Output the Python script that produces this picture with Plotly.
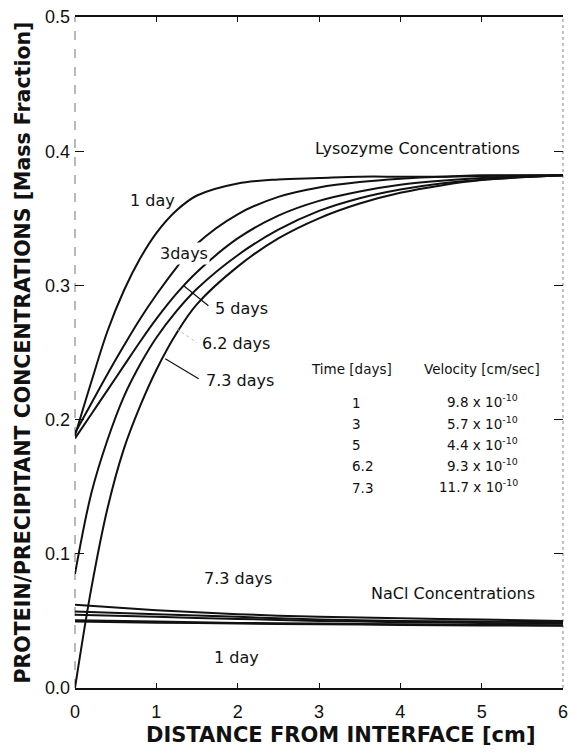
import plotly.graph_objects as go

# Distance from the interface (cm) at which the lysozyme profiles are sampled
distance = [0, 0.2, 0.4, 0.6, 0.8, 1.0, 1.25, 1.5, 2.0, 2.5, 3.0, 3.5, 4.0, 4.5, 5.0, 6.0]

# Lysozyme mass fraction profiles
lysozyme_1d = [0.188, 0.228, 0.266, 0.296, 0.320, 0.339, 0.356, 0.367, 0.376, 0.379, 0.380, 0.381, 0.381, 0.381, 0.382, 0.382]
lysozyme_3d = [0.190, 0.212, 0.234, 0.255, 0.275, 0.293, 0.3135, 0.331, 0.353, 0.366, 0.373, 0.377, 0.3795, 0.381, 0.3815, 0.382]
lysozyme_5d = [0.186, 0.204, 0.222, 0.240, 0.258, 0.275, 0.294, 0.310, 0.335, 0.352, 0.363, 0.370, 0.375, 0.378, 0.380, 0.382]
lysozyme_62d = [0.085, 0.145, 0.185, 0.217, 0.241, 0.261, 0.281, 0.2975, 0.3225, 0.3415, 0.3555, 0.365, 0.3715, 0.376, 0.3788, 0.382]
lysozyme_73d = [0.000, 0.074, 0.134, 0.178, 0.210, 0.237, 0.2645, 0.286, 0.314, 0.335, 0.350, 0.361, 0.369, 0.3745, 0.3785, 0.382]

# NaCl mass fraction profiles
nacl_distance = [0, 1, 2, 3, 4, 5, 6]
nacl_73d = [0.0620, 0.0580, 0.0550, 0.0530, 0.0520, 0.0510, 0.0500]
nacl_62d = [0.0570, 0.0550, 0.0530, 0.0510, 0.0500, 0.0495, 0.0490]
nacl_5d = [0.0545, 0.0530, 0.0515, 0.0500, 0.0490, 0.0485, 0.0480]
nacl_3d = [0.0505, 0.0495, 0.0485, 0.0480, 0.0475, 0.0470, 0.0468]
nacl_1d = [0.0495, 0.0487, 0.0480, 0.0475, 0.0470, 0.0466, 0.0463]

# Interface velocity table
table_times = ["1", "3", "5", "6.2", "7.3"]
table_velocity = ["9.8", "5.7", "4.4", "9.3", "11.7"]

x_ticks = [0, 1, 2, 3, 4, 5, 6]
y_ticks = [0.0, 0.1, 0.2, 0.3, 0.4, 0.5]
y_ticktext = ["0.0", "0.1", "0.2", "0.3", "0.4", "0.5"]

INK = "#111111"
LABEL_FONT = dict(family="DejaVu Sans", size=16, color=INK)
TABLE_FONT = dict(family="DejaVu Sans", size=13.5, color=INK)

fig = go.Figure()

lysozyme = [("1 day", lysozyme_1d), ("3 days", lysozyme_3d), ("5 days", lysozyme_5d),
            ("6.2 days", lysozyme_62d), ("7.3 days", lysozyme_73d)]
for name, ys in lysozyme:
    fig.add_trace(go.Scatter(x=distance, y=ys, mode="lines", name=f"Lysozyme {name}",
                             line=dict(color=INK, width=2, shape="spline", smoothing=1.0),
                             showlegend=False))

nacl = [("7.3 days", nacl_73d), ("6.2 days", nacl_62d), ("5 days", nacl_5d),
        ("3 days", nacl_3d), ("1 day", nacl_1d)]
for name, ys in nacl:
    fig.add_trace(go.Scatter(x=nacl_distance, y=ys, mode="lines", name=f"NaCl {name}",
                             line=dict(color=INK, width=2, shape="spline", smoothing=0.6),
                             showlegend=False))

annotations = [
    dict(x=4.21, y=0.402, text="Lysozyme Concentrations", xanchor="center"),
    dict(x=0.95, y=0.363, text="1 day", xanchor="center"),
    dict(x=1.34, y=0.324, text="3days", xanchor="center", bgcolor="white"),
    dict(x=1.70, y=0.2825, text="5 days", xanchor="left"),
    dict(x=1.54, y=0.2565, text="6.2 days", xanchor="left"),
    dict(x=1.58, y=0.229, text="7.3 days", xanchor="left"),
    dict(x=4.65, y=0.0706, text="NaCl Concentrations", xanchor="center"),
    dict(x=2.01, y=0.0818, text="7.3 days", xanchor="center"),
    dict(x=1.99, y=0.023, text="1 day", xanchor="center"),
]
annotations = [dict(a, xref="x", yref="y", showarrow=False, yanchor="middle",
                    font=LABEL_FONT) for a in annotations]

# velocity table
annotations.append(dict(x=3.40, y=0.238, text="Time [days]", xref="x", yref="y",
                        showarrow=False, xanchor="center", font=TABLE_FONT))
annotations.append(dict(x=5.00, y=0.238, text="Velocity [cm/sec]", xref="x", yref="y",
                        showarrow=False, xanchor="center", font=TABLE_FONT))
row_top, row_step = 0.2126, 0.0158
for i, (t, v) in enumerate(zip(table_times, table_velocity)):
    ry = row_top - i * row_step
    annotations.append(dict(x=3.38, y=ry, text=t, xref="x", yref="y", showarrow=False,
                            xanchor="left", font=TABLE_FONT))
    annotations.append(dict(x=5.47, y=ry + 0.001, text=f"{v} x 10<sup>-10</sup>", xref="x", yref="y",
                            showarrow=False, xanchor="right", font=TABLE_FONT))

# x-axis title
annotations.append(dict(x=0.545, y=-0.049, xref="paper", yref="paper", showarrow=False,
                        xanchor="center", yanchor="top", text="DISTANCE FROM INTERFACE [cm]",
                        font=dict(family="DejaVu Sans", size=21, color=INK, weight="bold")))

shapes = [
    # leader lines from curves to their labels
    dict(type="line", xref="x", yref="y", x0=1.34, y0=0.2996, x1=1.64, y1=0.2848,
         line=dict(color=INK, width=1.2)),
    dict(type="line", xref="x", yref="y", x0=1.25, y0=0.2677, x1=1.50, y1=0.2572,
         line=dict(color="#bbbbbb", width=1, dash="dot")),
    dict(type="line", xref="x", yref="y", x0=1.11, y0=0.2454, x1=1.52, y1=0.2305,
         line=dict(color=INK, width=1.2)),
    # left and right frame edges
    dict(type="line", xref="x domain", yref="y domain", x0=0, x1=0, y0=0, y1=1,
         line=dict(color="#8a8a8a", width=1.2, dash="dash"), layer="below"),
    dict(type="line", xref="x domain", yref="y domain", x0=1, x1=1, y0=0, y1=1,
         line=dict(color="#9a9a9a", width=1.2, dash="dot"), layer="below"),
]

fig.update_layout(
    width=575, height=753,
    margin=dict(l=75, r=7, t=15, b=65),
    paper_bgcolor="white", plot_bgcolor="white",
    showlegend=False,
    annotations=annotations,
    shapes=shapes,
    xaxis=dict(range=[0, 6], tickvals=x_ticks, ticks="inside", ticklen=5, tickwidth=1,
               tickcolor=INK, showline=True, linewidth=2, linecolor=INK, mirror="ticks",
               showgrid=False, zeroline=False, ticklabelstandoff=6,
               tickfont=dict(family="Liberation Sans", size=18, color=INK)),
    yaxis=dict(range=[0, 0.5], tickvals=y_ticks, ticktext=y_ticktext, ticks="inside",
               ticklen=9, tickwidth=1.3, tickcolor=INK, showline=False, mirror="ticks",
               showgrid=False, zeroline=False, ticklabelstandoff=4,
               tickfont=dict(family="Liberation Sans", size=18, color=INK),
               title=dict(text="PROTEIN/PRECIPITANT CONCENTRATIONS [Mass Fraction]", standoff=8,
                          font=dict(family="DejaVu Sans", size=20.5, color=INK, weight="bold"))),
)

fig.write_html("out.html")
